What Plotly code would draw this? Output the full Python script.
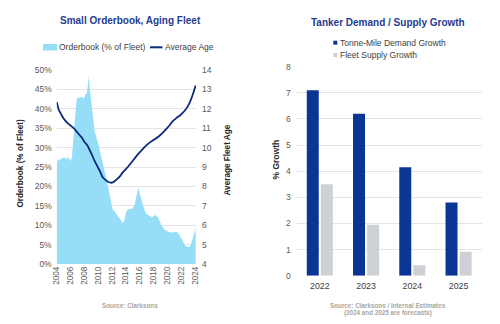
import plotly.graph_objects as go

# ---------------- data ----------------
ob_years = [2004.0, 2004.2, 2004.5, 2004.8, 2005.1, 2005.4, 2005.7, 2006.0, 2006.2, 2006.5,
            2006.8, 2006.95, 2007.3, 2007.6, 2007.9, 2008.1, 2008.35, 2008.5, 2008.65, 2008.8,
            2009.05, 2009.5, 2010.1, 2010.6, 2011.1, 2011.6, 2012.1, 2012.5, 2013.0, 2013.4,
            2013.6, 2013.8, 2014.1, 2014.5, 2015.0, 2015.3, 2015.6, 2015.8, 2016.1, 2016.5,
            2016.8, 2017.0, 2017.4, 2017.8, 2018.2, 2018.6, 2018.9, 2019.2, 2019.6, 2019.9,
            2020.4, 2020.9, 2021.3, 2021.6, 2022.1, 2022.6, 2023.0, 2023.3, 2023.6, 2023.9, 2024.1]
orderbook_pct = [26.0, 27.0, 26.8, 27.3, 27.5, 27.0, 27.6, 26.5, 27.5, 34.0,
                 41.0, 43.0, 42.8, 43.2, 42.6, 43.5, 44.0, 46.0, 48.5, 45.0,
                 41.0, 34.2, 30.3, 26.5, 22.6, 18.4, 14.1, 13.3, 12.0, 11.0,
                 10.5, 11.5, 13.8, 14.2, 14.3, 15.5, 18.0, 19.7, 17.5, 15.0,
                 13.5, 12.8, 12.5, 12.0, 12.6, 12.2, 11.0, 9.8, 8.8, 8.5,
                 8.2, 8.1, 8.3, 7.9, 6.4, 4.7, 4.4, 4.6, 6.2, 8.0, 9.3]

age_years = [2004.0, 2004.3, 2004.7, 2005.0, 2005.4, 2005.8, 2006.2, 2006.6, 2006.9, 2007.3,
             2007.7, 2008.0, 2008.4, 2008.8, 2009.1, 2009.5, 2009.9, 2010.3, 2010.6, 2011.0,
             2011.4, 2012.0, 2012.4, 2012.8, 2013.2, 2013.5, 2013.9, 2014.4, 2014.9, 2015.5,
             2016.1, 2016.7, 2017.3, 2018.0, 2018.7, 2019.2, 2019.7, 2020.2, 2020.7, 2021.3,
             2021.9, 2022.6, 2023.0, 2023.3, 2023.7, 2024.1]
avg_age = [12.35, 11.95, 11.68, 11.5, 11.33, 11.2, 11.08, 10.95, 10.82, 10.65,
           10.48, 10.3, 10.13, 9.85, 9.62, 9.3, 9.02, 8.75, 8.5, 8.35,
           8.24, 8.19, 8.28, 8.4, 8.54, 8.7, 8.85, 9.05, 9.27, 9.55,
           9.79, 10.02, 10.22, 10.39, 10.56, 10.72, 10.9, 11.1, 11.33, 11.52,
           11.68, 11.94, 12.15, 12.37, 12.75, 13.2]

left_xticks = list(range(2004, 2025, 2))

growth_years = ["2022", "2023", "2024", "2025"]
demand_growth = [7.1, 6.2, 4.15, 2.8]
supply_growth = [3.5, 1.95, 0.4, 0.92]

# ---------------- figure ----------------
W, H = 500, 324
def px(x):
    return x / W
def py(y):
    return 1 - y / H

FONT = "Liberation Sans, Arial, sans-serif"
NAVY = "#1F3C8F"
TICK = "#595959"
GRID = "#E4E4E4"
AREA_C = "#96DDF8"
LINE_C = "#0D2B7C"
DEM_C = "#0B3595"
SUP_C = "#CDD0D4"

fig = go.Figure()

fig.add_trace(go.Scatter(
    x=ob_years, y=orderbook_pct, name="Orderbook (% of Fleet)",
    mode="none", fill="tozeroy", fillcolor=AREA_C,
    xaxis="x", yaxis="y", showlegend=False))
fig.add_trace(go.Scatter(
    x=age_years, y=avg_age, name="Average Age", mode="lines",
    line=dict(color=LINE_C, width=1.8, shape="spline", smoothing=0.6),
    xaxis="x", yaxis="y2", showlegend=False))

fig.add_trace(go.Bar(
    x=growth_years, y=demand_growth, name="Tonne-Mile Demand Growth",
    marker=dict(color=DEM_C, line=dict(width=0)),
    xaxis="x3", yaxis="y3", showlegend=False))
fig.add_trace(go.Bar(
    x=growth_years, y=supply_growth, name="Fleet Supply Growth",
    marker=dict(color=SUP_C, line=dict(width=0)),
    xaxis="x3", yaxis="y3", showlegend=False))

fig.update_layout(
    width=W, height=H,
    margin=dict(l=0, r=0, t=0, b=0, autoexpand=False),
    paper_bgcolor="white", plot_bgcolor="white",
    font=dict(family=FONT, size=8.5, color=TICK),
    bargap=0.39, bargroupgap=0.15,
    xaxis=dict(domain=[px(56.7), px(196)], range=[2004, 2024.15],
               tickvals=left_xticks, tickangle=-90, showgrid=False,
               zeroline=False, showline=False, ticks="",
               tickfont=dict(size=8.2, color=TICK), anchor="y"),
    yaxis=dict(domain=[py(264), py(70)], range=[0, 50], dtick=5,
               ticksuffix="%", gridcolor=GRID, zeroline=False,
               showline=False, ticks="", ticklabelstandoff=4,
               tickfont=dict(size=8.5, color=TICK), anchor="x"),
    yaxis2=dict(domain=[py(264), py(70)], range=[4, 14], dtick=1,
                overlaying="y", side="right", showgrid=False,
                zeroline=False, showline=False, ticks="",
                ticklabelstandoff=5,
                tickfont=dict(size=8.5, color=TICK), anchor="x"),
    xaxis3=dict(domain=[px(296.7), px(481.7)], showgrid=False,
                zeroline=False, showline=False, ticks="",
                ticklabelstandoff=3,
                tickfont=dict(size=8.8, color="#404040"), anchor="y3"),
    yaxis3=dict(domain=[py(275.7), py(66.7)], range=[0, 8], dtick=1,
                gridcolor=GRID, zeroline=False, showline=False, ticks="",
                ticklabelstandoff=5,
                tickfont=dict(size=8.5, color=TICK), anchor="x3"),
)

# manual legend swatches (paper coords)
shapes = [
    dict(type="rect", x0=px(43), x1=px(57), y0=py(50.5), y1=py(44),
         fillcolor=AREA_C, line=dict(width=0)),
    dict(type="line", x0=px(150), x1=px(162.5), y0=py(47.3), y1=py(47.3),
         line=dict(color=LINE_C, width=2)),
    dict(type="rect", x0=px(333.3), x1=px(337.3), y0=py(44.7), y1=py(40.7),
         fillcolor=DEM_C, line=dict(width=0)),
    dict(type="rect", x0=px(333.3), x1=px(337.3), y0=py(57), y1=py(53),
         fillcolor=SUP_C, line=dict(width=0)),
]
for s in shapes:
    s.update(xref="paper", yref="paper")
fig.update_layout(shapes=shapes)

annotations = [
    dict(text="<b>Small Orderbook, Aging Fleet</b>", x=px(130), y=py(21),
         font=dict(size=10, color=NAVY)),
    dict(text="<b>Tanker Demand / Supply Growth</b>", x=px(388), y=py(22.5),
         font=dict(size=10, color=NAVY)),
    dict(text="<b>Orderbook (% of Fleet)</b>", x=px(20), y=py(163.5),
         textangle=-90, font=dict(size=8.2, color="#262626")),
    dict(text="<b>Average Fleet Age</b>", x=px(226.5), y=py(160),
         textangle=-90, font=dict(size=8.2, color="#262626")),
    dict(text="<b>% Growth</b>", x=px(275.5), y=py(160),
         textangle=-90, font=dict(size=8.5, color="#262626")),
    dict(text="<b>Source: Clarksons</b>", x=px(130), y=py(305),
         font=dict(size=6.3, color="#A6A6A6")),
    dict(text="<b>Source: Clarksons / Internal Estimates</b>", x=px(388), y=py(305),
         font=dict(size=6.3, color="#A6A6A6")),
    dict(text="<b>(2024 and 2025 are forecasts)</b>", x=px(388), y=py(313),
         font=dict(size=6.3, color="#A6A6A6")),
]
for a in annotations:
    a.update(xanchor="center")
legend_texts = [
    dict(text="Orderbook (% of Fleet)", x=px(57), y=py(47.3)),
    dict(text="Average Age", x=px(163), y=py(47.3)),
    dict(text="Tonne-Mile Demand Growth", x=px(338.3), y=py(42.7)),
    dict(text="Fleet Supply Growth", x=px(338.3), y=py(55)),
]
for t in legend_texts:
    t.update(xanchor="left", font=dict(size=8.5, color="#404040"))
annotations += legend_texts
for a in annotations:
    a.update(xref="paper", yref="paper", showarrow=False, yanchor="middle")
fig.update_layout(annotations=annotations)

fig.write_html("out.html")
